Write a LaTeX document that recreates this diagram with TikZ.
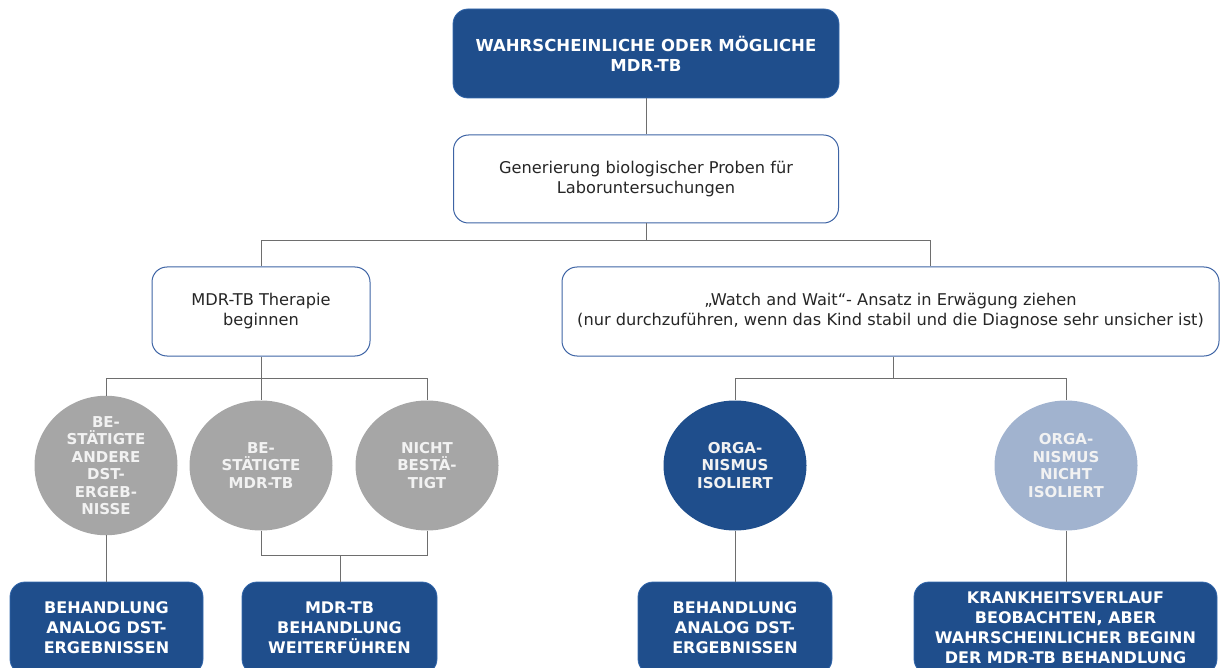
\documentclass[tikz,border=0pt]{standalone}
\usepackage{fontspec}
\setmainfont{DejaVu Sans}
\usetikzlibrary{shapes.geometric}
\definecolor{deepblue}{RGB}{31,78,140}
\definecolor{rimblue}{RGB}{52,104,172}
\definecolor{frameblue}{RGB}{62,100,165}
\definecolor{paleblue}{RGB}{161,179,207}
\definecolor{midgrey}{RGB}{166,166,166}
\definecolor{linkgrey}{RGB}{110,110,110}
\definecolor{inkgrey}{RGB}{38,38,38}
\tikzset{
  darkbox/.style={rectangle, rounded corners=15pt, fill=deepblue, draw=rimblue, line width=0.8pt,
    text=white, font=\fontsize{16}{20}\selectfont\bfseries, align=center, inner sep=0pt},
  lightbox/.style={rectangle, rounded corners=15pt, fill=white, draw=frameblue, line width=1pt,
    text=inkgrey, font=\fontsize{16.2}{20}\selectfont, align=center, inner sep=0pt},
  bubble/.style={ellipse, minimum width=143pt, minimum height=130pt, inner sep=0pt,
    text=white!95!black, font=\fontsize{15}{17.5}\selectfont\bfseries, align=center},
  link/.style={draw=linkgrey, line width=1pt}
}
\begin{document}
\begin{tikzpicture}[x=1pt, y=-1pt]
\useasboundingbox (0,0) rectangle (1220,668);
\clip (0,0) rectangle (1220,668);

% top row
\node[darkbox, minimum width=386pt, minimum height=89pt, font=\fontsize{16.5}{20}\selectfont\bfseries] (start) at (646,53.5)
  {WAHRSCHEINLICHE ODER MÖGLICHE\\MDR-TB};
\node[lightbox, minimum width=385pt, minimum height=88pt] (probe) at (646,179)
  {Generierung biologischer Proben für\\Laboruntersuchungen};

% second row
\node[lightbox, minimum width=218pt, minimum height=89pt] (thera) at (261,311.5)
  {MDR-TB Therapie\\beginnen};
\node[lightbox, minimum width=657pt, minimum height=89pt] (watch) at (890.5,311.5)
  {„Watch and Wait“- Ansatz in Erwägung ziehen\\(nur durchzuführen, wenn das Kind stabil und die Diagnose sehr unsicher ist)};

% outcome circles
\node[bubble, fill=midgrey] (cA) at (106,465.5) {BE-\\STÄTIGTE\\ANDERE\\DST-\\ERGEB-\\NISSE};
\node[bubble, fill=midgrey] (cB) at (261,465.5) {BE-\\STÄTIGTE\\MDR-TB};
\node[bubble, fill=midgrey] (cC) at (427,465.5) {NICHT\\BESTÄ-\\TIGT};
\node[bubble, fill=deepblue] (cD) at (735,465.5) {ORGA-\\NISMUS\\ISOLIERT};
\node[bubble, fill=paleblue] (cE) at (1066,465.5) {ORGA-\\NISMUS\\NICHT\\ISOLIERT};

% actions
\node[darkbox, minimum width=193pt, minimum height=92pt] (actA) at (106.5,628)
  {BEHANDLUNG\\ANALOG DST-\\ERGEBNISSEN};
\node[darkbox, minimum width=195pt, minimum height=92pt] (actB) at (339.5,628)
  {MDR-TB\\BEHANDLUNG\\WEITERFÜHREN};
\node[darkbox, minimum width=194pt, minimum height=92pt] (actD) at (735,628)
  {BEHANDLUNG\\ANALOG DST-\\ERGEBNISSEN};
\node[darkbox, minimum width=303pt, minimum height=92pt] (actE) at (1065.5,628)
  {KRANKHEITSVERLAUF\\BEOBACHTEN, ABER\\WAHRSCHEINLICHER BEGINN\\DER MDR-TB BEHANDLUNG};

% junction points of the connector tree
\coordinate (busTop) at (646,241);
\coordinate (watchIn) at (930,0);
\coordinate (busLeft) at (261,378);
\coordinate (busRight) at (893,378);
\coordinate (busMerge) at (340,555);

% connectors
\path[link] (start) -- (probe);
\path[link] (probe.south -| busTop) -- (busTop);
\path[link] (busTop) -| (thera.north);
\path[link] (busTop) -| (watch.north -| watchIn);
\path[link] (thera.south) -- (busLeft);
\path[link] (busLeft) -| (cA.north);
\path[link] (busLeft) -- (cB.north);
\path[link] (busLeft) -| (cC.north);
\path[link] (watch.south -| busRight) -- (busRight);
\path[link] (busRight) -| (cD.north);
\path[link] (busRight) -| (cE.north);
\path[link] (cA.south) -- (actA.north -| cA.south);
\path[link] (cB.south) |- (busMerge);
\path[link] (cC.south) |- (busMerge);
\path[link] (busMerge) -- (actB.north -| busMerge);
\path[link] (cD.south) -- (actD.north -| cD.south);
\path[link] (cE.south) -- (actE.north -| cE.south);
\end{tikzpicture}
\end{document}
